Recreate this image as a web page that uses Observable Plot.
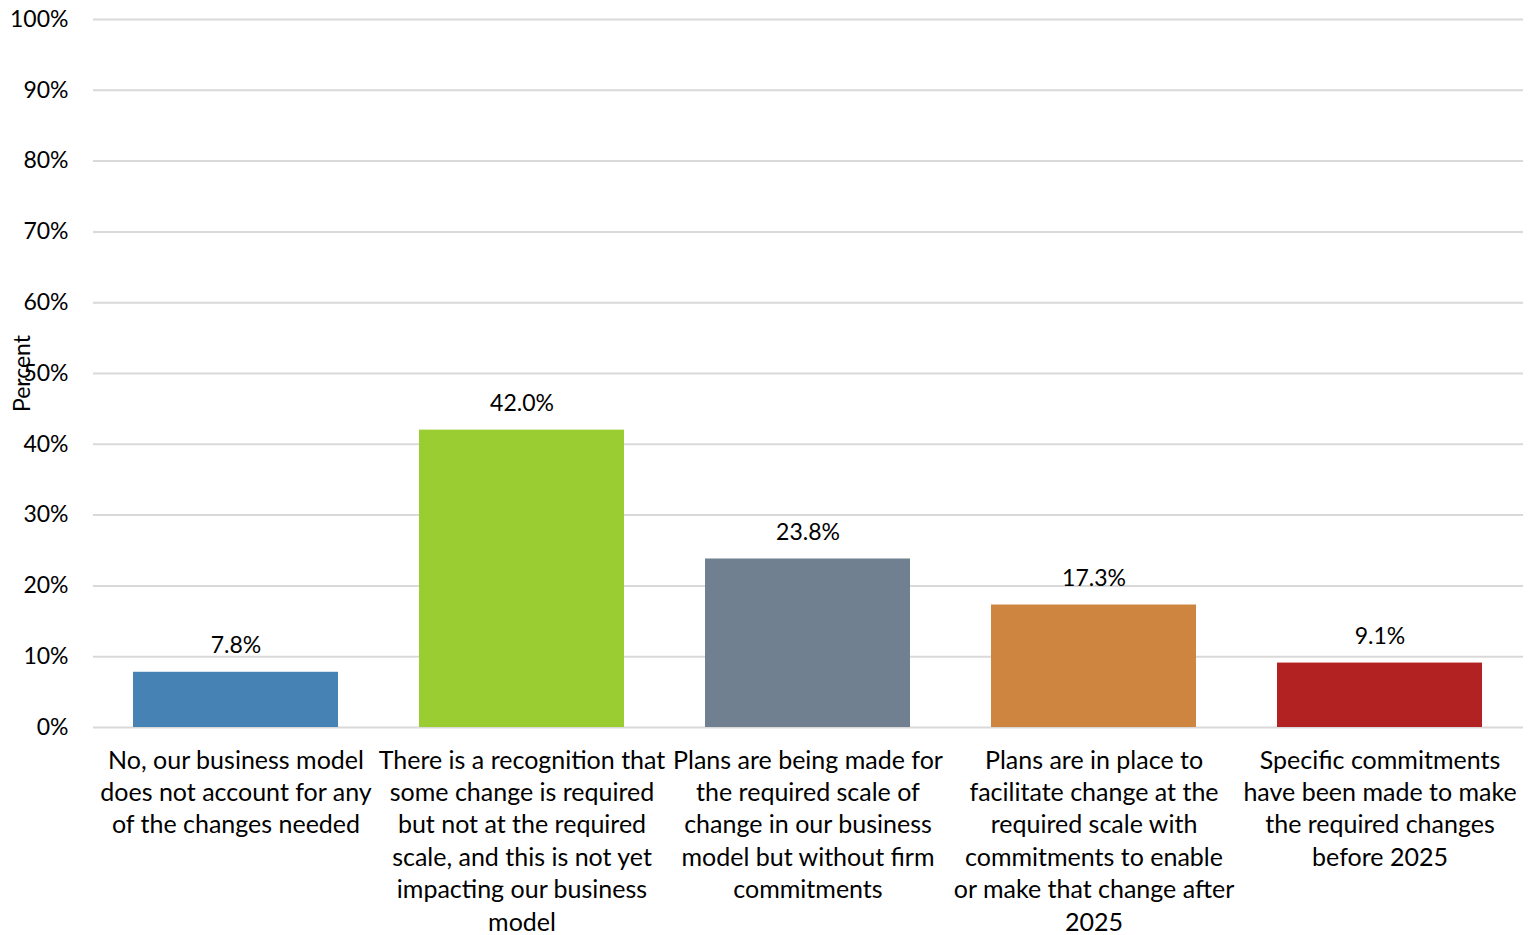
<!DOCTYPE html>
<html>
<head>
<meta charset="utf-8">
<script src="https://cdn.jsdelivr.net/npm/d3@7"></script>
<script src="https://cdn.jsdelivr.net/npm/@observablehq/plot@0.6"></script>
<style>
  html, body { margin: 0; padding: 0; background: #fff; }
</style>
</head>
<body>
<div id="chart"></div>
<script>
const categories = [
  "No, our business model\ndoes not account for any\nof the changes needed",
  "There is a recognition that\nsome change is required\nbut not at the required\nscale, and this is not yet\nimpacting our business\nmodel",
  "Plans are being made for\nthe required scale of\nchange in our business\nmodel but without firm\ncommitments",
  "Plans are in place to\nfacilitate change at the\nrequired scale with\ncommitments to enable\nor make that change after\n2025",
  "Specific commitments\nhave been made to make\nthe required changes\nbefore 2025"
];
const values = [7.8, 42.0, 23.8, 17.3, 9.1];
const colors = ["#4682B4", "#9ACD32", "#708090", "#CD853F", "#B22222"];
const yTicks = [0, 10, 20, 30, 40, 50, 60, 70, 80, 90, 100];

const data = categories.map((c, i) => ({category: c, value: values[i], color: colors[i]}));

const chart = Plot.plot({
  width: 1528,
  height: 935,
  marginLeft: 93,
  marginRight: 5,
  marginTop: 19,
  marginBottom: 208,
  style: {fontFamily: "Lato, 'Open Sans', sans-serif", fontSize: "23px", color: "#000", background: "#fff"},
  x: {domain: categories, paddingInner: 0.283, paddingOuter: 0.1415, label: null},
  y: {domain: [0, 100], label: null},
  marks: [
    Plot.gridY(yTicks, {stroke: "#d9d9d9", strokeOpacity: 1, strokeWidth: 2}),
    Plot.barY(data, {x: "category", y: "value", fill: "color"}),
    Plot.text(data, {x: "category", y: "value", text: d => d.value.toFixed(1) + "%", lineAnchor: "bottom", dy: -19, fontSize: 23, fill: "#000"}),
    Plot.axisY(yTicks, {tickSize: 0, tickPadding: 25, tickFormat: d => d + "%", fontSize: 23, label: null}),
    Plot.axisX({tickSize: 0, tickPadding: 18, fontSize: 25, lineHeight: 1.296, label: null}),
    Plot.text(["Percent"], {frameAnchor: "left", textAnchor: "middle", dx: -71, rotate: -90, fontSize: 23, fill: "#000"})
  ]
});
document.getElementById("chart").appendChild(chart);
</script>
</body>
</html>
